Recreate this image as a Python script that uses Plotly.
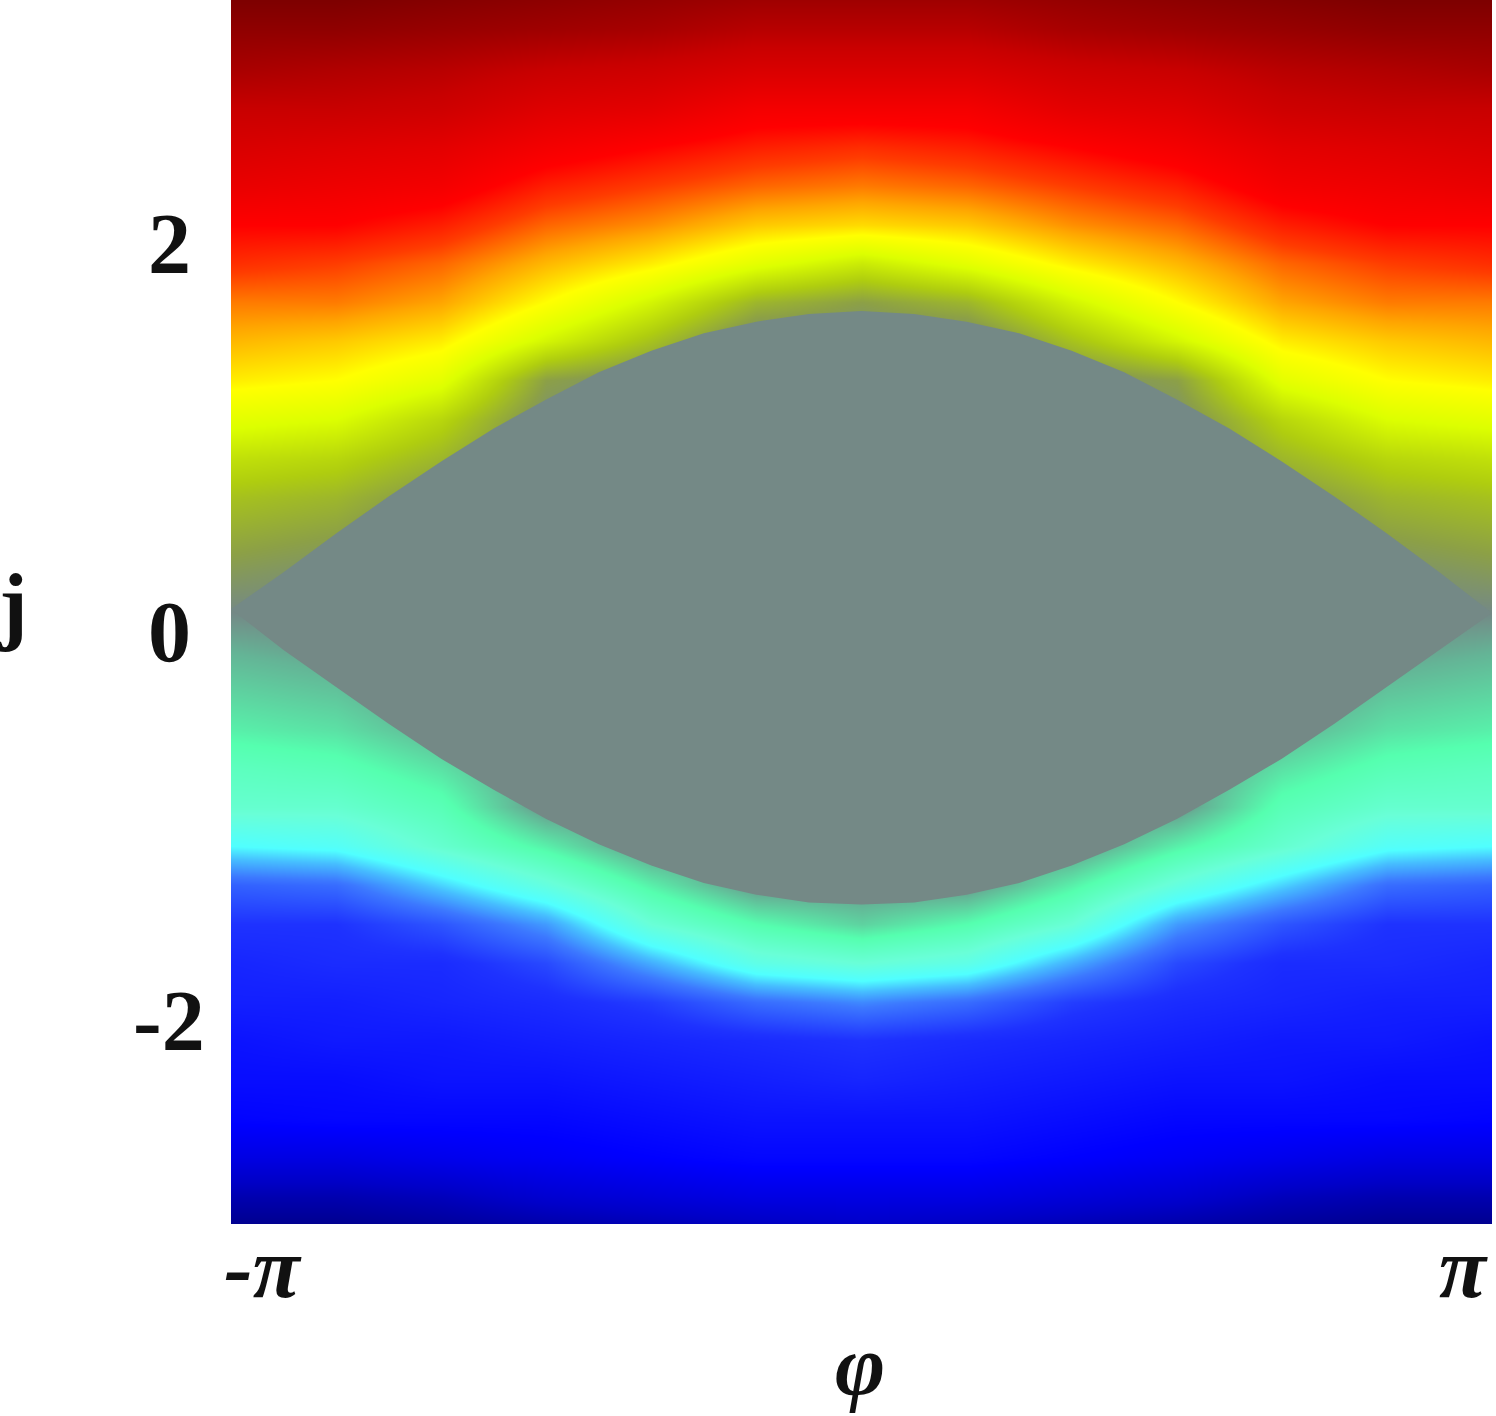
import plotly.graph_objects as go
import numpy as np

# phase axis samples (columns of the map) and current axis samples (rows)
phi = [-np.pi, -5 * np.pi / 6, -2 * np.pi / 3, -np.pi / 2, -np.pi / 3, -np.pi / 6, 0.0,
       np.pi / 6, np.pi / 3, np.pi / 2, 2 * np.pi / 3, 5 * np.pi / 6, np.pi]
j_rows = [-3.1, -2.9, -2.7, -2.5, -2.3, -2.1, -1.9, -1.7, -1.5, -1.3, -1.1,
          -0.9, -0.7, -0.5, -0.3, -0.1, 0.1, 0.3, 0.5, 0.7, 0.9, 1.1,
          1.3, 1.5, 1.7, 1.9, 2.1, 2.3, 2.5, 2.7, 2.9, 3.1, 3.3]

# colour level, one row per j value (bottom -> top)
level = [
    [0.00, 0.00, 0.01, 0.02, 0.03, 0.04, 0.05, 0.04, 0.03, 0.02, 0.01, 0.00, 0.00],
    [0.04, 0.04, 0.05, 0.07, 0.08, 0.09, 0.09, 0.09, 0.08, 0.07, 0.05, 0.04, 0.04],
    [0.09, 0.09, 0.10, 0.11, 0.12, 0.13, 0.13, 0.13, 0.12, 0.11, 0.10, 0.09, 0.09],
    [0.125, 0.13, 0.13, 0.13, 0.14, 0.15, 0.15, 0.15, 0.14, 0.13, 0.13, 0.13, 0.125],
    [0.14, 0.14, 0.15, 0.15, 0.16, 0.17, 0.18, 0.17, 0.16, 0.15, 0.15, 0.14, 0.14],
    [0.15, 0.16, 0.16, 0.17, 0.18, 0.19, 0.20, 0.19, 0.18, 0.17, 0.16, 0.16, 0.15],
    [0.17, 0.17, 0.18, 0.19, 0.21, 0.25, 0.27, 0.25, 0.21, 0.19, 0.18, 0.17, 0.17],
    [0.18, 0.19, 0.19, 0.22, 0.29, 0.36, 0.38, 0.36, 0.29, 0.22, 0.19, 0.19, 0.18],
    [0.20, 0.20, 0.23, 0.28, 0.38, 0.43, 0.46, 0.43, 0.38, 0.28, 0.23, 0.20, 0.20],
    [0.24, 0.25, 0.31, 0.37, 0.44, 0.50, 0.50, 0.50, 0.44, 0.37, 0.31, 0.25, 0.24],
    [0.33, 0.34, 0.39, 0.44, 0.50, 0.50, 0.50, 0.50, 0.50, 0.44, 0.39, 0.34, 0.33],
    [0.39, 0.39, 0.42, 0.50, 0.50, 0.50, 0.50, 0.50, 0.50, 0.50, 0.42, 0.39, 0.39],
    [0.41, 0.42, 0.45, 0.50, 0.50, 0.50, 0.50, 0.50, 0.50, 0.50, 0.45, 0.42, 0.41],
    [0.44, 0.45, 0.48, 0.50, 0.50, 0.50, 0.50, 0.50, 0.50, 0.50, 0.48, 0.45, 0.44],
    [0.46, 0.47, 0.50, 0.50, 0.50, 0.50, 0.50, 0.50, 0.50, 0.50, 0.50, 0.47, 0.46],
    [0.48, 0.49, 0.50, 0.50, 0.50, 0.50, 0.50, 0.50, 0.50, 0.50, 0.50, 0.49, 0.48],
    [0.50, 0.50, 0.50, 0.50, 0.50, 0.50, 0.50, 0.50, 0.50, 0.50, 0.50, 0.50, 0.50],
    [0.52, 0.51, 0.50, 0.50, 0.50, 0.50, 0.50, 0.50, 0.50, 0.50, 0.50, 0.51, 0.52],
    [0.54, 0.53, 0.50, 0.50, 0.50, 0.50, 0.50, 0.50, 0.50, 0.50, 0.50, 0.53, 0.54],
    [0.56, 0.55, 0.52, 0.50, 0.50, 0.50, 0.50, 0.50, 0.50, 0.50, 0.52, 0.55, 0.56],
    [0.59, 0.58, 0.55, 0.50, 0.50, 0.50, 0.50, 0.50, 0.50, 0.50, 0.55, 0.58, 0.59],
    [0.63, 0.62, 0.58, 0.51, 0.50, 0.50, 0.50, 0.50, 0.50, 0.51, 0.58, 0.62, 0.63],
    [0.67, 0.66, 0.63, 0.53, 0.51, 0.50, 0.50, 0.50, 0.51, 0.53, 0.63, 0.66, 0.67],
    [0.70, 0.69, 0.67, 0.61, 0.56, 0.50, 0.50, 0.50, 0.56, 0.61, 0.67, 0.69, 0.70],
    [0.73, 0.73, 0.71, 0.66, 0.61, 0.55, 0.53, 0.55, 0.61, 0.66, 0.71, 0.73, 0.73],
    [0.77, 0.76, 0.74, 0.70, 0.67, 0.63, 0.60, 0.63, 0.67, 0.70, 0.74, 0.76, 0.77],
    [0.80, 0.80, 0.78, 0.74, 0.72, 0.69, 0.68, 0.69, 0.72, 0.74, 0.78, 0.80, 0.80],
    [0.84, 0.83, 0.82, 0.78, 0.76, 0.74, 0.73, 0.74, 0.76, 0.78, 0.82, 0.83, 0.84],
    [0.87, 0.86, 0.85, 0.82, 0.80, 0.78, 0.77, 0.78, 0.80, 0.82, 0.85, 0.86, 0.87],
    [0.90, 0.90, 0.89, 0.86, 0.85, 0.82, 0.82, 0.82, 0.85, 0.86, 0.89, 0.90, 0.90],
    [0.94, 0.93, 0.92, 0.90, 0.89, 0.87, 0.87, 0.87, 0.89, 0.90, 0.92, 0.93, 0.94],
    [0.97, 0.97, 0.96, 0.95, 0.94, 0.92, 0.92, 0.92, 0.94, 0.95, 0.96, 0.97, 0.97],
    [1.00, 1.00, 0.99, 0.98, 0.97, 0.96, 0.96, 0.96, 0.97, 0.98, 0.99, 1.00, 1.00],
]

# grey "eye" (bistable region) boundary
phi_eye = [-np.pi + k * np.pi / 12 for k in range(25)]
j_eye_upper = [0.12, 0.31, 0.51, 0.70, 0.88, 1.05, 1.20, 1.34, 1.45, 1.54, 1.60, 1.64, 1.655,
               1.64, 1.60, 1.54, 1.45, 1.34, 1.20, 1.05, 0.88, 0.70, 0.51, 0.31, 0.10]
j_eye_lower = [0.12, -0.09, -0.28, -0.47, -0.65, -0.81, -0.96, -1.09, -1.20, -1.29, -1.35, -1.39, -1.40,
               -1.39, -1.35, -1.29, -1.20, -1.09, -0.96, -0.81, -0.65, -0.47, -0.28, -0.09, 0.10]

y_ticks = [-2, 0, 2]

colorscale = [
    [0.00, 'rgb(0,0,130)'],
    [0.06, 'rgb(0,0,200)'],
    [0.12, 'rgb(0,0,255)'],
    [0.20, 'rgb(30,50,255)'],
    [0.26, 'rgb(60,120,255)'],
    [0.30, 'rgb(70,190,255)'],
    [0.33, 'rgb(80,255,255)'],
    [0.38, 'rgb(105,255,215)'],
    [0.43, 'rgb(85,255,175)'],
    [0.48, 'rgb(100,180,150)'],
    [0.50, 'rgb(116,137,134)'],
    [0.53, 'rgb(140,160,70)'],
    [0.57, 'rgb(175,205,15)'],
    [0.62, 'rgb(220,255,0)'],
    [0.66, 'rgb(255,255,0)'],
    [0.71, 'rgb(255,165,0)'],
    [0.76, 'rgb(255,60,0)'],
    [0.80, 'rgb(255,0,0)'],
    [0.90, 'rgb(200,0,0)'],
    [1.00, 'rgb(120,0,0)'],
]

fig = go.Figure()
fig.add_trace(go.Heatmap(
    x=phi, y=j_rows, z=level,
    zmin=0, zmax=1, zsmooth='best',
    colorscale=colorscale, showscale=False, hoverinfo='skip'))

fig.add_trace(go.Scatter(
    x=phi_eye + phi_eye[::-1],
    y=j_eye_upper + j_eye_lower[::-1],
    mode='lines', fill='toself',
    fillcolor='rgb(116,137,134)', line=dict(width=0),
    hoverinfo='skip', showlegend=False))

W, H = 1496, 1416
L, R, T, B = 231, 4, 0, 192
pw, ph = W - L - R, H - T - B

def px(x):
    return (x - L) / pw

def py(y):
    return (ph - y) / ph

lab = dict(family='Liberation Serif', size=86, color='#111')
ann = []
for t in y_ticks:
    ann.append(dict(text='<b>%d</b>' % t, xref='paper', yref='y', x=px(169), y=t,
                    xanchor='center', yanchor='middle', showarrow=False, font=lab))
ann.append(dict(text='<b>j</b>', xref='paper', yref='paper', x=px(-4), y=py(604),
                xanchor='left', yanchor='middle', showarrow=False, font=lab))
ann.append(dict(text='<b><i>-π</i></b>', xref='paper', yref='paper', x=px(222), y=py(1268),
                xanchor='left', yanchor='middle', showarrow=False, font=lab))
ann.append(dict(text='<b><i>π</i></b>', xref='paper', yref='paper', x=px(1490), y=py(1268),
                xanchor='right', yanchor='middle', showarrow=False, font=lab))
ann.append(dict(text='<b><i>φ</i></b>', xref='paper', yref='paper', x=px(860), y=py(1365),
                xanchor='center', yanchor='middle', showarrow=False, font=lab))

fig.update_layout(
    width=W, height=H,
    margin=dict(l=L, r=R, t=T, b=B),
    paper_bgcolor='white', plot_bgcolor='white',
    showlegend=False,
    annotations=ann,
    xaxis=dict(range=[-np.pi, np.pi], showticklabels=False, showgrid=False,
               zeroline=False, ticks=''),
    yaxis=dict(range=[-3.045, 3.256], showticklabels=False, showgrid=False,
               zeroline=False, ticks=''),
)

fig.write_html("out.html", config={'displayModeBar': False},
               post_script="document.body.style.margin='0px';")
